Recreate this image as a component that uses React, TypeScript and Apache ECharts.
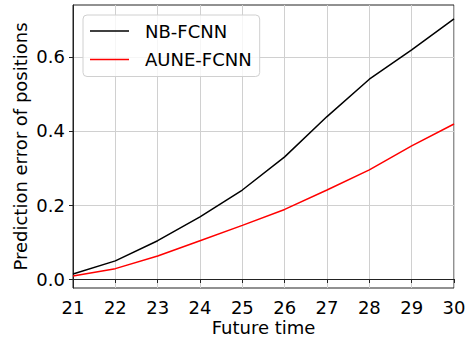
import React, { useEffect, useRef } from "react";
import * as echarts from "echarts";

const futureTime = [21, 22, 23, 24, 25, 26, 27, 28, 29, 30];
const nbFcnn = [0.0135, 0.049, 0.1035, 0.168, 0.2405, 0.33, 0.439, 0.54, 0.619, 0.703];
const auneFcnn = [0.008, 0.028, 0.062, 0.1035, 0.145, 0.188, 0.2405, 0.295, 0.36, 0.419];
const yTicks = [0, 0.2, 0.4, 0.6];
const seriesNames = ["NB-FCNN", "AUNE-FCNN"];

const FONT = "DejaVu Sans";

export default function App() {
  const ref = useRef<HTMLDivElement>(null);
  useEffect(() => {
    if (!ref.current) return;
    const chart = echarts.init(ref.current, undefined, { renderer: "svg" });
    chart.setOption({
      animation: false,
      backgroundColor: "#fff",
      textStyle: { fontFamily: FONT },
      grid: {
        left: 73,
        right: 13,
        top: 5,
        bottom: 50,
        containLabel: false,
        outerBoundsMode: "none",
        show: true,
        borderColor: "#222",
        borderWidth: 1,
        backgroundColor: "transparent",
      },
      legend: {
        orient: "vertical",
        left: 83,
        top: 15,
        data: seriesNames.map((n) => ({ name: n, icon: "rect" })),
        itemWidth: 39,
        itemHeight: 1.5,
        itemGap: 10.5,
        padding: [7, 8, 8, 7],
        backgroundColor: "rgba(255,255,255,0.8)",
        borderColor: "#d0d0d0",
        borderWidth: 1,
        borderRadius: 4,
        textStyle: {
          fontFamily: FONT,
          fontSize: 18,
          lineHeight: 18,
          color: "#000",
          padding: [0, 0, 0, 11],
        },
      },
      xAxis: {
        type: "value",
        min: 21,
        max: 30,
        interval: 1,
        name: "Future time",
        nameLocation: "middle",
        nameGap: 30,
        nameMoveOverlap: false,
        nameTextStyle: { fontFamily: FONT, fontSize: 18, lineHeight: 18, color: "#000" },
        axisLine: { show: true, lineStyle: { color: "#222", width: 1 } },
        axisTick: { show: true, inside: false, length: 4, lineStyle: { color: "#222" } },
        axisLabel: { fontFamily: FONT, fontSize: 18, color: "#000", margin: 10 },
        splitLine: { show: true, lineStyle: { color: "#d0d0d0", width: 1 } },
      },
      yAxis: {
        type: "value",
        min: -0.0243,
        max: 0.7405,
        name: "Prediction error of positions",
        nameLocation: "middle",
        nameGap: 44,
        nameMoveOverlap: false,
        nameTextStyle: { fontFamily: FONT, fontSize: 18, lineHeight: 18, color: "#000" },
        axisLine: { show: true, lineStyle: { color: "#222", width: 1 } },
        axisTick: {
          show: true,
          inside: false,
          length: 4,
          lineStyle: { color: "#222" },
          customValues: yTicks,
        },
        axisLabel: {
          fontFamily: FONT,
          fontSize: 18,
          color: "#000",
          margin: 8,
          customValues: yTicks,
          formatter: (v: number) => v.toFixed(1),
        },
        splitLine: { show: true, lineStyle: { color: "#d0d0d0", width: 1 } },
      },
      series: [
        {
          name: seriesNames[0],
          type: "line",
          data: futureTime.map((t, i) => [t, nbFcnn[i]]),
          symbol: "none",
          lineStyle: { color: "#000", width: 1.5 },
          itemStyle: { color: "#000" },
        },
        {
          name: seriesNames[1],
          type: "line",
          data: futureTime.map((t, i) => [t, auneFcnn[i]]),
          symbol: "none",
          lineStyle: { color: "#ff0000", width: 1.5 },
          itemStyle: { color: "#ff0000" },
        },
      ],
    });
    return () => chart.dispose();
  }, []);
  return (
    <div
      ref={ref}
      style={{ position: "fixed", left: 0, top: 0, width: 467, height: 338 }}
    />
  );
}
